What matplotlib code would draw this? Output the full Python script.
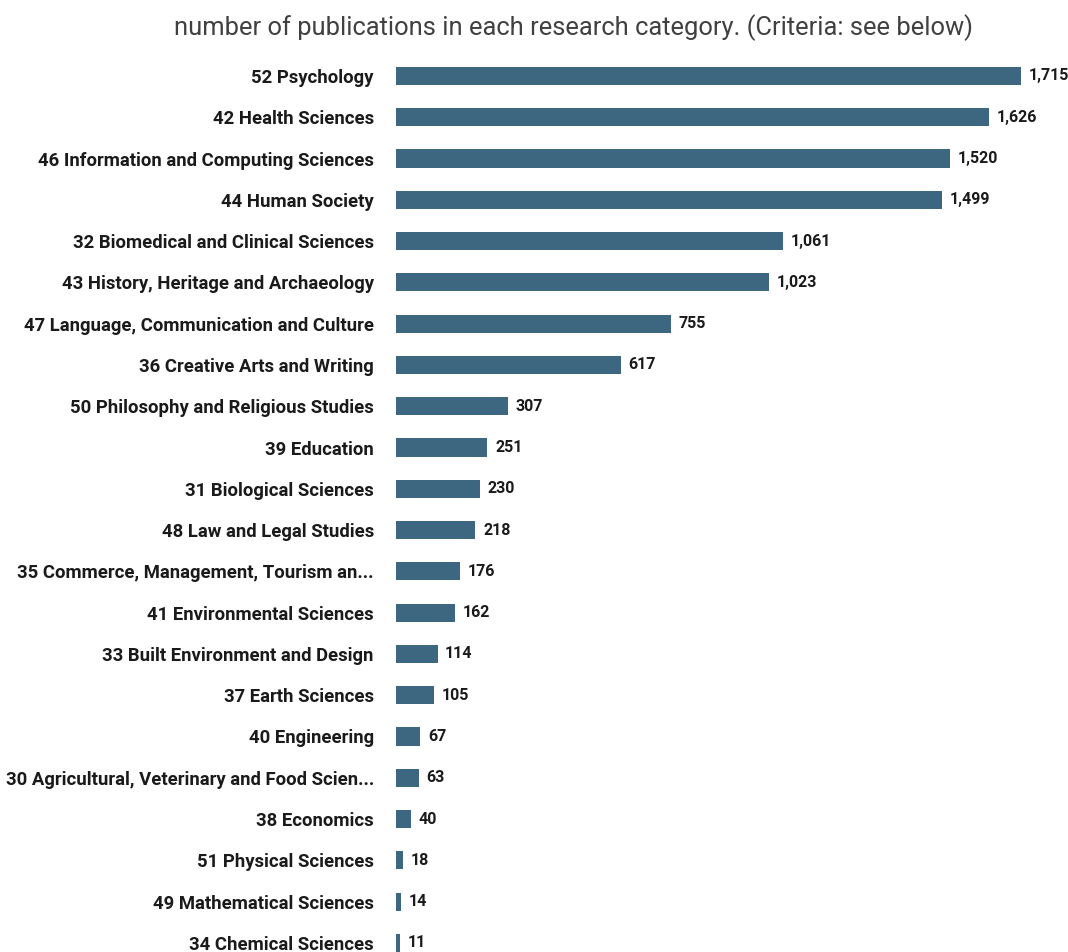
import matplotlib.pyplot as plt

plt.rcParams['font.family'] = ['Roboto', 'DejaVu Sans']

categories = [
    '52 Psychology',
    '42 Health Sciences',
    '46 Information and Computing Sciences',
    '44 Human Society',
    '32 Biomedical and Clinical Sciences',
    '43 History, Heritage and Archaeology',
    '47 Language, Communication and Culture',
    '36 Creative Arts and Writing',
    '50 Philosophy and Religious Studies',
    '39 Education',
    '31 Biological Sciences',
    '48 Law and Legal Studies',
    '35 Commerce, Management, Tourism an...',
    '41 Environmental Sciences',
    '33 Built Environment and Design',
    '37 Earth Sciences',
    '40 Engineering',
    '30 Agricultural, Veterinary and Food Scien...',
    '38 Economics',
    '51 Physical Sciences',
    '49 Mathematical Sciences',
    '34 Chemical Sciences',
]
counts = [1715, 1626, 1520, 1499, 1061, 1023, 755, 617, 307, 251, 230,
          218, 176, 162, 114, 105, 67, 63, 40, 18, 14, 11]

bar_color = '#3d6680'

fig = plt.figure(figsize=(10.68, 9.52), dpi=100)
ax = fig.add_axes([396 / 1068, 0, 1 - 396 / 1068, 0.9419])

pos = list(range(len(categories)))
ax.barh(pos, counts, height=0.44, color=bar_color)
ax.set_ylim(21.22, -0.5)
ax.set_xlim(0, 1844)

for p, v in zip(pos, counts):
    ax.annotate(f'{v:,}', (v, p), xytext=(5.5, 0), textcoords='offset points',
                ha='left', va='center', fontsize=11.5, fontweight='bold', color='#1a1a1a')

ax.set_yticks(pos)
ax.set_yticklabels(categories, fontsize=13.3, fontweight='bold', color='#1a1a1a')
ax.tick_params(axis='y', length=0, pad=16)
ax.set_xticks([])
for s in ax.spines.values():
    s.set_visible(False)

fig.text(574 / 1068, 1 - 28 / 952,
         'number of publications in each research category. (Criteria: see below)',
         ha='center', va='center', fontsize=18.4, color='#404040')

fig.savefig('out.png', dpi=100)
